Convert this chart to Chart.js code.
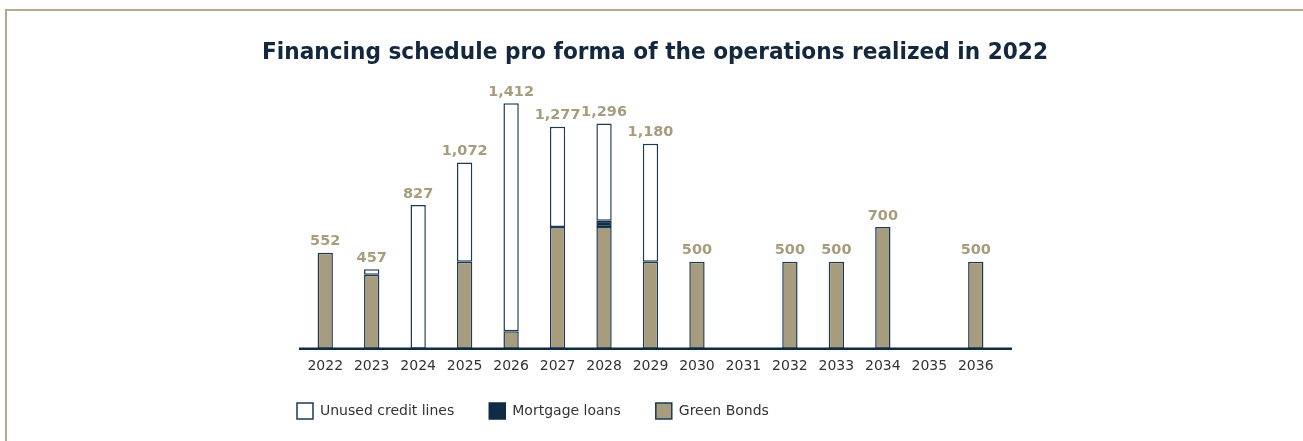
<!DOCTYPE html>
<html>
<head>
<meta charset="utf-8">
<title>Financing schedule pro forma</title>
<script src="https://cdn.jsdelivr.net/npm/chart.js@4.4.1/dist/chart.umd.min.js"></script>
<style>
  html, body { margin: 0; padding: 0; background: #ffffff; overflow: hidden; }
  #frame {
    position: absolute; left: 5px; top: 9px; width: 1400px; height: 500px;
    border-top: 2px solid #b8aa88; border-left: 2px solid #b8aa88;
  }
  #wrap { position: absolute; left: 0; top: 0; width: 1303px; height: 441px; }
</style>
</head>
<body>
<div id="frame"></div>
<div id="wrap"><canvas id="chart"></canvas></div>
<script>
  // values in millions
  var years = ["2022", "2023", "2024", "2025", "2026", "2027", "2028", "2029",
               "2030", "2031", "2032", "2033", "2034", "2035", "2036"];
  var greenBonds = [552, 426, 0, 500, 100, 700, 700, 500, 500, 0, 500, 500, 700, 0, 500];
  var mortgageLoans = [0, 0, 0, 0, 0, 0, 36, 0, 0, 0, 0, 0, 0, 0, 0];
  var unusedCredit = [0, 31, 827, 572, 1312, 577, 560, 680, 0, 0, 0, 0, 0, 0, 0];

  var NAVY = "#0f2b45";
  var EDGE = "#1d3a55";
  var TAN = "#a89c7e";
  var FONT = "'DejaVu Sans', sans-serif";

  // totals above each stack
  var totalsPlugin = {
    id: "totals",
    afterDatasetsDraw: function (chart) {
      var ctx = chart.ctx;
      var x = chart.scales.x;
      var y = chart.scales.y;
      ctx.save();
      ctx.font = "bold 14.5px " + FONT;
      ctx.fillStyle = TAN;
      ctx.textAlign = "center";
      ctx.textBaseline = "bottom";
      years.forEach(function (yr, i) {
        var total = greenBonds[i] + mortgageLoans[i] + unusedCredit[i];
        if (!total) return;
        ctx.fillText(total.toLocaleString("en-US"), x.getPixelForValue(i), y.getPixelForValue(total) - 4);
      });
      ctx.restore();
    }
  };

  // dark base line, a bit wider than the bars
  var baseLinePlugin = {
    id: "baseLine",
    afterDatasetsDraw: function (chart) {
      var area = chart.chartArea;
      var yPix = chart.scales.y.getPixelForValue(0);
      var ctx = chart.ctx;
      ctx.save();
      ctx.strokeStyle = NAVY;
      ctx.lineWidth = 2.5;
      ctx.beginPath();
      ctx.moveTo(area.left - 3, yPix);
      ctx.lineTo(area.right + 13, yPix);
      ctx.stroke();
      ctx.restore();
    }
  };

  // pull the legend row a little closer to the year labels
  var legendNudge = {
    id: "legendNudge",
    afterLayout: function (chart) {
      if (chart.legend) {
        chart.legend.top -= 15.5;
        chart.legend.bottom -= 15.5;
      }
    }
  };

  var canvas = document.getElementById("chart");
  new Chart(canvas, {
    type: "bar",
    data: {
      labels: years,
      datasets: [
        { label: "Green Bonds", data: greenBonds, backgroundColor: TAN, borderColor: EDGE },
        { label: "Mortgage loans", data: mortgageLoans, backgroundColor: NAVY, borderColor: NAVY },
        { label: "Unused credit lines", data: unusedCredit, backgroundColor: "#ffffff", borderColor: EDGE }
      ]
    },
    options: {
      responsive: true,
      maintainAspectRatio: false,
      animation: false,
      datasets: {
        bar: {
          borderWidth: 1.5,
          borderSkipped: false,
          barPercentage: 0.33,
          categoryPercentage: 1
        }
      },
      layout: { padding: { left: 262, right: 255, top: 0, bottom: -3.5 } },
      scales: {
        x: {
          stacked: true,
          offset: true,
          grid: { display: false, drawTicks: false },
          border: { display: false },
          ticks: {
            padding: 9,
            color: "#333333",
            font: { family: FONT, size: 14 },
            maxRotation: 0,
            autoSkip: false
          }
        },
        y: {
          stacked: true,
          min: 0,
          max: 1600,
          grid: { display: false, drawTicks: false },
          border: { display: false },
          ticks: { display: false },
          afterFit: function (scale) { scale.width = 40; }
        },
        y2: {
          position: "right",
          min: 0,
          max: 1,
          grid: { display: false, drawTicks: false },
          border: { display: false },
          ticks: { display: false },
          afterFit: function (scale) { scale.width = 49; }
        }
      },
      plugins: {
        title: {
          display: true,
          text: "Financing schedule pro forma of the operations realized in 2022",
          color: "#13273e",
          font: { family: FONT, size: 22.4, weight: "bold" },
          padding: { top: 39.5, bottom: 4.3 }
        },
        legend: {
          position: "bottom",
          align: "start",
          reverse: true,
          labels: {
            boxWidth: 16,
            boxHeight: 16,
            padding: 35,
            color: "#333333",
            font: { family: FONT, size: 14 },
            generateLabels: function (chart) {
              var items = Chart.defaults.plugins.legend.labels.generateLabels(chart);
              items.forEach(function (item) { item.lineWidth = 1.5; });
              return items;
            }
          }
        },
        tooltip: { enabled: false }
      }
    },
    plugins: [totalsPlugin, baseLinePlugin, legendNudge]
  });
</script>
</body>
</html>
